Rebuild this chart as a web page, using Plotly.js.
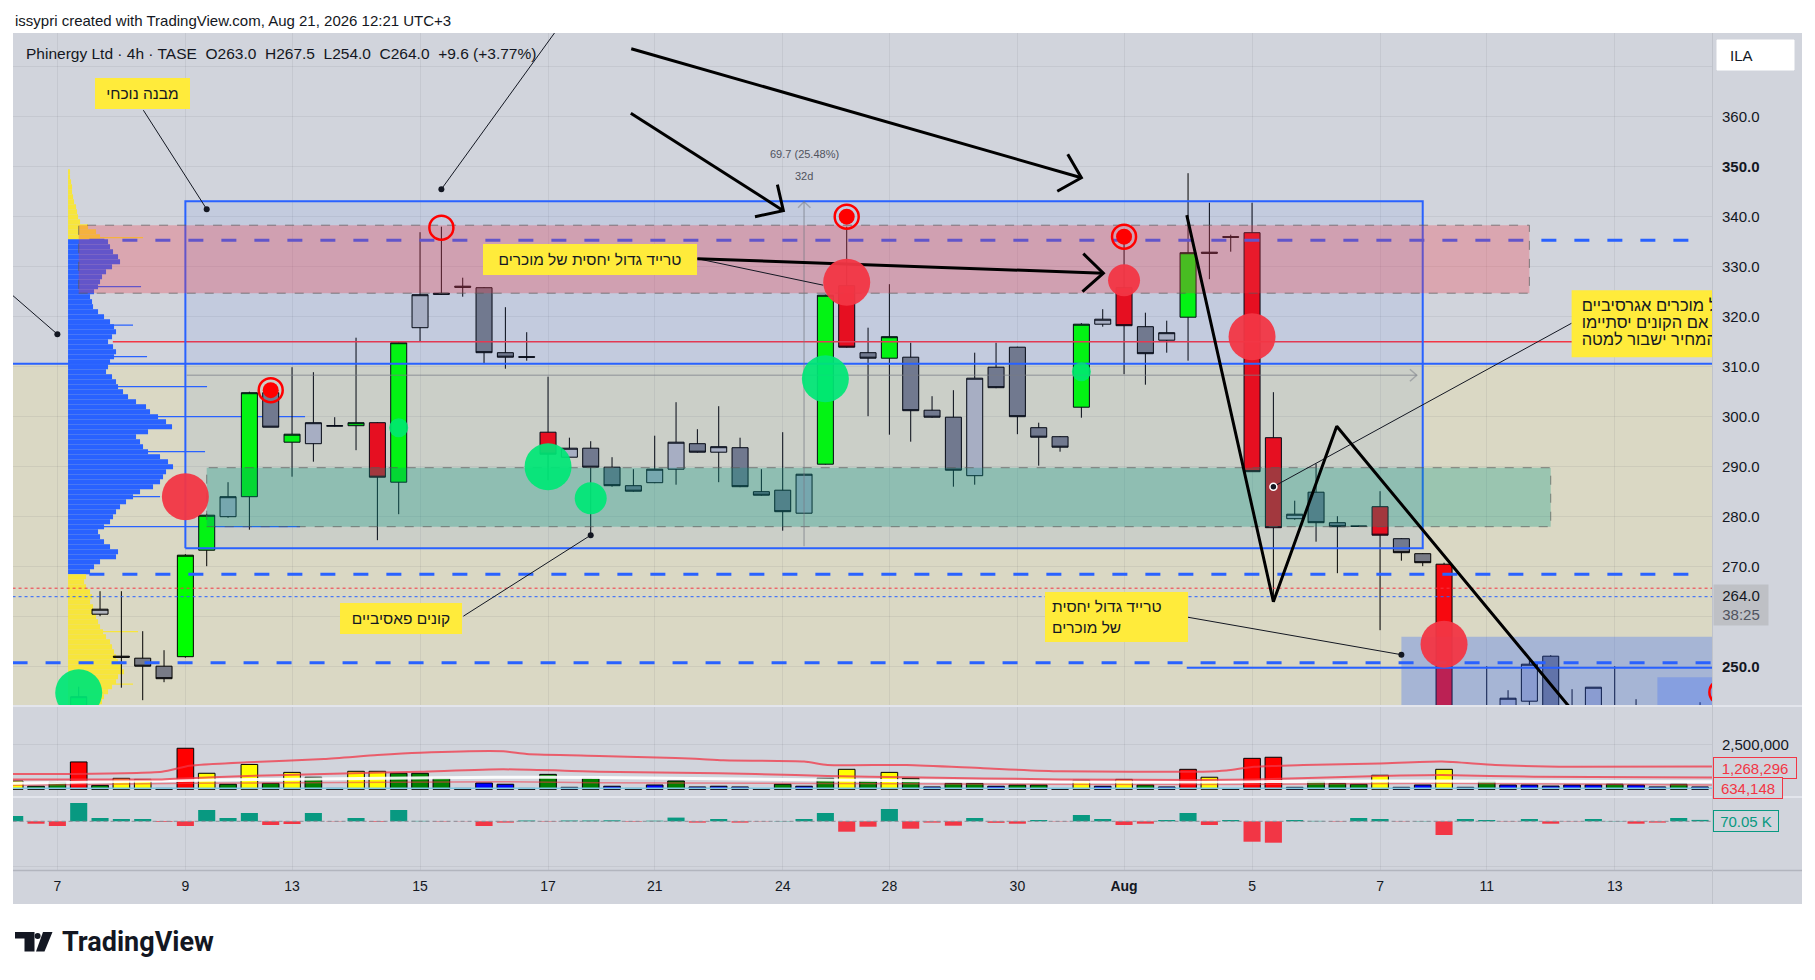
<!DOCTYPE html>
<html><head><meta charset="utf-8">
<script src="https://cdn.plot.ly/plotly-3.0.1.min.js"></script>
<style>html,body{margin:0;padding:0;background:#fff;}#chart{width:1815px;height:980px;}</style>
</head><body><div id="chart"></div>
<script>
// ================= DATA =================
const open  = [238,239.5,238.5,237,260.5,252.1,251.7,250.1,252.0,273.3,
               280.0,284.0,304.8,294.9,294.6,298.1,298.2,298.8,286.9,317.8,
               324.7,326.1,325.8,312.8,312.0,296.9,291.9,293.7,289.9,286.2,
               286.8,289.5,294.6,292.9,293.8,285.0,285.3,280.7,290.5,326.2,
               312.8,311.7,311.9,301.3,299.9,288.2,309.9,313.9,297.8,296.0,
               301.9,318.5,325.8,318.0,315.3,319.9,332.9,336.0,336.8,295.8,
               279.6,284.9,278.8,278.1,282.0,275.6,272.6,270.5,238.0,240.0,
               239.5,243.1,252.1,241.5,240.5,241.0,241.0,241.0,240.0,240.5];
const high  = [241,241.5,240.5,246,265.1,265.1,257.1,253.3,272.5,280.6,
               286.9,305.0,305.3,309.9,308.9,299.9,315.8,298.9,315.0,336.9,
               338.0,327.8,325.9,321.9,316.9,308.0,295.8,295.1,291.9,289.5,
               296.2,302.9,297.5,302.1,295.8,289.5,296.9,288.6,324.4,338.0,
               317.8,326.5,314.8,304.1,305.3,312.8,314.8,314.0,298.8,296.1,
               318.7,321.5,335.5,320.8,319.2,348.7,342.8,336.4,342.8,304.9,
               283.2,290.6,280.1,278.2,285.1,275.7,272.7,270.8,240.5,250.1,
               245.3,251.5,252.3,245.5,245.9,250.1,243.5,241.5,241.8,242.9];
const low   = [235,236,235.5,236,260.1,245.8,243.3,246.9,251.8,270.1,
               279.8,277.4,297.9,288.0,291.0,298.0,293.3,275.3,280.5,315.1,
               324.4,324.0,310.6,309.6,311.2,287.3,291.9,276.3,286.0,285.0,
               286.7,286.4,292.8,286.9,285.9,284.2,277.2,280.6,290.4,313.8,
               300.1,296.4,295.0,299.8,286.0,286.4,305.7,296.5,290.2,293.0,
               299.8,318.0,308.5,306.4,312.8,311.2,327.5,333.0,289.0,263.0,
               279.4,275.0,268.7,278.0,257.3,271.2,270.1,236.0,234.0,235.0,
               237.0,240.5,238.0,237.0,238.0,237.0,238.0,238.0,238.0,238.0];
const close = [239.5,238.5,237,244,261.5,251.9,250.1,247.6,272.3,280.3,
               284.0,304.8,297.9,296.5,298.8,298.2,298.8,287.9,314.8,324.4,
               324.5,325.9,312.8,311.9,311.9,292.5,293.7,289.9,286.2,285.1,
               289.5,294.9,292.9,294.0,286.0,284.3,281.0,288.5,324.3,313.9,
               311.7,316.0,301.2,299.9,289.3,307.7,305.8,300.0,295.9,293.9,
               318.5,319.5,318.2,312.6,316.8,332.8,332.7,335.9,289.0,277.8,
               280.5,278.8,278.0,278.1,276.3,272.8,270.8,238.0,237.0,238.0,
               243.7,250.5,240.0,240.0,245.9,240.0,240.5,240.0,241.0,241.2];
// candle class: G strong up, R strong down, u up, d down
const candleClass = ['u','d','d','G','u','d','d','d','G','G',
                     'u','G','d','G','u','u','G','R','G','u',
                     'd','d','d','d','d','R','u','d','d','d',
                     'u','u','d','u','d','d','d','u','G','R',
                     'd','G','d','d','d','u','d','d','d','d',
                     'G','u','R','d','u','G','d','d','R','R',
                     'u','d','d','d','R','d','d','R','d','d',
                     'u','u','d','d','u','d','d','d','u','u'];
// volume in millions of shares
const volumeM = [0.46,0.17,0.40,1.52,0.22,0.61,0.55,0.05,2.28,0.89,
                 0.28,1.38,0.33,0.94,0.67,0.05,1.00,1.00,0.89,0.89,
                 0.61,0.05,0.35,0.28,0.05,0.83,0.11,0.61,0.17,0.05,
                 0.24,0.46,0.13,0.17,0.13,0.04,0.28,0.17,0.61,1.11,
                 0.46,0.94,0.61,0.13,0.33,0.33,0.17,0.24,0.24,0.04,
                 0.50,0.17,0.55,0.24,0.13,1.11,0.67,0.04,1.72,1.78,
                 0.11,0.46,0.33,0.28,0.78,0.11,0.24,1.11,0.11,0.46,
                 0.24,0.24,0.18,0.24,0.24,0.28,0.24,0.13,0.28,0.13];
// relative volume class: L low, N normal, H high, X extreme, T tiny
const volClass = ['H','N','N','X','N','H','H','T','X','H',
                  'N','H','N','H','N','T','H','H','N','N',
                  'N','T','L','L','T','N','L','N','L','T',
                  'L','N','L','L','L','T','N','L','N','H',
                  'N','H','N','L','N','N','L','N','N','T',
                  'H','L','H','N','L','X','H','T','X','X',
                  'L','N','N','N','H','L','L','H','L','N',
                  'L','L','L','L','L','N','L','L','N','L'];
// volume delta (thousands)
const deltaK = [265,-120,-235,915,165,115,115,-35,-235,565,
                165,415,-185,-135,415,-15,165,-30,565,20,
                -20,-10,-235,-65,40,-20,40,40,50,-25,
                30,185,-65,115,-65,-15,15,115,415,-520,
                -270,615,-370,-65,-220,165,-75,-120,65,-15,
                315,115,-185,-120,65,415,-185,65,-1020,-1070,
                65,20,-20,165,115,-15,15,-685,115,65,
                -15,115,-120,-15,115,15,-120,-65,165,70];
// volume moving-average style lines (bar index, millions)
const volLineHiX = [-0.2,1.9,6.9,8.2,10.9,14.5,17,19,22.9,24,27.4,30.1,31.9,33.2,37,38.1,41.8,45.4,49,55.7,56.8,58.1,60.4,64,66.9,69.4,73,79.6];
const volLineHiY = [0.85,0.85,0.98,1.31,1.50,1.68,1.90,2.03,2.11,1.96,1.85,1.76,1.70,1.61,1.54,1.35,1.35,1.17,1.00,0.98,1.04,1.25,1.35,1.44,1.54,1.35,1.25,1.27];
const volLineMidX = [-0.2,6.9,8.2,10.9,14.5,19,22.9,27.4,33,36.6,38.1,41.8,49,55.7,58.1,64,66.9,71.2,79.6];
const volLineMidY = [0.55,0.55,0.61,0.74,0.85,0.98,1.11,0.98,0.89,0.79,0.74,0.67,0.55,0.52,0.55,0.74,0.79,0.70,0.66];
const volLineWhiteX = [-0.2,6.9,12,22.5,27.4,38.1,49,55.7,64,79.6];
const volLineWhiteY = [0.33,0.48,0.55,0.67,0.65,0.52,0.42,0.41,0.46,0.42];
const volLineLowX = [-0.2,8.2,22.9,27.4,55,66.9,79.6];
const volLineLowY = [0.22,0.33,0.42,0.37,0.26,0.33,0.24];
const volLineBaseX = [-0.2,79.6];
const volLineBaseY = [0.06,0.06];
// volume profile (price bin, relative volume)
const profilePrice = [349,348,347,346,345,344,343,342,341,340,339,338,337,336,335,334,333,332,331,330,
  329,328,327,326,325,324,323,322,321,320,319,318,317,316,315,314,313,312,311,310,
  309,308,307,306,305,304,303,302,301,300,299,298,297,296,295,294,293,292,291,290,
  289,288,287,286,285,284,283,282,281,280,279,278,277,276,275,274,273,272,271,270,
  269,268,267,266,265,264,263,262,261,260,259,258,257,256,255,254,253,252,251,250,
  249,248,247,246,245,244,243,242];
const profileVol = [2,2,3,4,4,5,6,8,9,10,12,20,28,32,40,42,45,50,52,44,
  38,34,32,30,26,22,24,25,30,36,42,46,48,44,40,45,48,46,42,40,
  38,44,48,50,55,60,68,78,82,90,98,104,80,68,72,75,80,92,100,105,
  98,95,92,85,72,65,58,52,48,45,42,36,30,32,36,42,50,48,32,26,
  22,18,16,18,22,24,22,25,27,28,30,32,35,38,42,44,46,48,50,54,
  56,50,48,44,40,36,34,32];
const spikePrice = [335.8,326.0,318.3,312.0,306.0,300.0,293.0,284.0,278.0,257.0,246.5];
const spikeVol   = [75,73,65,79,139,237,137,92,232,70,65];
const VAH = 335.3, VAL = 268.5;
// x-axis tick labels (bar index of first bar of day)
const tickBars   = [2,8,13,19,25,30,36,41,47,52,58,64,69,75];
const tickLabels = ['7','9','13','15','17','21','24','28','30','<b>Aug</b>','5','7','11','13'];
// signal circles (bar index, price)
const bigRedX = [8,39,58,67],  bigRedY = [284.0,326.9,316.0,254.5];
const midRedX = [52],          midRedY = [327.3];
const bigGreenX = [3,25,38],   bigGreenY = [244.8,290.0,307.6];
const midGreenX = [27],        midGreenY = [283.7];
const smallGreenX = [18,50],   smallGreenY = [297.8,309.0];
const ringX = [12,20,39,52,80], ringY = [305.3,337.8,340.0,336.0,244.9];
const ringDotX = [12,39,52],   ringDotY = [305.3,340.0,336.0];

// ================= GEOMETRY / STYLE =================
const W=1815,H=980,ML=13,MR=103,MT=33,MB=110;
const PW=W-ML-MR, PH=H-MT-MB;
const px = x => (x-ML)/PW;
const py = y => (H-MB-y)/PH;
const X_RANGE=[-0.08,79.56];
const PX_PER_BAR = 21.333, PROFILE_BASE = 2.5;
const FONT='Liberation Sans, Arial, sans-serif';
const GRID='rgba(42,46,57,0.07)';
const BLUE='#2962ff', RED='#f23645';
const N = open.length;
const barIdx = Array.from({length:N},(_,i)=>i);

const traces=[];
const M = {xaxis:'x',yaxis:'y',hoverinfo:'skip',showlegend:false};

// volume profile
traces.push(Object.assign({type:'bar',orientation:'h',y:profilePrice,
  x:profileVol.map(v=>v/PX_PER_BAR),base:PROFILE_BASE,width:1,
  marker:{color:profilePrice.map(p=>(p>VAL&&p<VAH)?BLUE:'#f7e53c'),line:{width:0}}},M));
traces.push(Object.assign({type:'bar',orientation:'h',y:spikePrice,
  x:spikeVol.map(v=>v/PX_PER_BAR),base:PROFILE_BASE,width:0.25,
  marker:{color:spikePrice.map(p=>(p>VAL&&p<VAH)?BLUE:'#f7e53c'),line:{width:0}}},M));

// candles
const candleColors={d:'#787b86',u:'#b2b5be',G:'#00ff00',R:'#f7080f'};
Object.keys(candleColors).forEach(c=>{
  const idx=barIdx.filter(i=>candleClass[i]===c);
  const st={fillcolor:candleColors[c],line:{color:'#000000',width:1}};
  traces.push(Object.assign({type:'candlestick',x:idx,open:idx.map(i=>open[i]),high:idx.map(i=>high[i]),
    low:idx.map(i=>low[i]),close:idx.map(i=>close[i]),increasing:st,decreasing:st,whiskerwidth:0},M));
});

function line(xs,ys,color,width,dash,extra){
  traces.push(Object.assign({type:'scatter',mode:'lines',x:xs,y:ys,line:{color:color,width:width,dash:dash||'solid'}},M,extra||{}));
}
function box(x0,x1,y0,y1,fill,lc,lw,dash){
  traces.push(Object.assign({type:'scatter',mode:'lines',x:[x0,x1,x1,x0,x0],y:[y0,y0,y1,y1,y0],fill:'toself',fillcolor:fill,
    line:{color:lc,width:lw,dash:dash||'solid'}},M));
}

// horizontal levels
line([-0.1,79.6],[265.7,265.7],RED,1,'dot');
line([-0.1,79.6],[264.0,264.0],BLUE,1,'dot');
line([3.5,79.0],[VAH,VAH],BLUE,3,'15px,18px');
line([3.5,79.0],[VAL,VAL],BLUE,3,'15px,18px');
line([-0.1,79.6],[250.8,250.8],BLUE,3,'15px,18px');
line([4.6,79.6],[315.0,315.0],RED,1.5);
line([-0.1,79.6],[310.6,310.6],BLUE,2);
line([54.94,79.6],[249.8,249.8],BLUE,2);

// zones
box(8.0,66.0,273.7,343.1,'rgba(41,98,255,0.08)',BLUE,2);
box(3.0,71.0,324.7,338.3,'rgba(242,54,69,0.29)','rgba(90,90,90,0.7)',1,'dash');
box(9.0,72.0,278.0,289.8,'rgba(8,153,129,0.30)','rgba(90,90,90,0.7)',1,'dash');
box(65.0,82,230,256.0,'rgba(41,98,255,0.29)','rgba(0,0,0,0)',0);
box(77.0,82,230,247.9,'rgba(41,98,255,0.26)','rgba(0,0,0,0)',0);

// measure tool
const MG='rgba(120,123,134,0.5)';
line([37,37],[274.1,343.0],MG,1.5);
line([36.72,37,37.3],[341.8,343.0,341.8],MG,1.5);
line([8.06,65.72],[308.3,308.3],MG,1.5);
line([65.4,65.72,65.4],[309.5,308.3,307.1],MG,1.5);

// thin leader lines
line([6.03,9.0],[361.3,341.5],'#131722',1);
line([26.5,20.0],[383.8,345.5],'#131722',1);
line([-1.0,2.0],[327.6,316.5],'#131722',1);
line([21.03,27.0],[260.1,276.3],'#131722',1);
line([54.98,65.0],[259.9,252.4],'#131722',1);
line([72.98,59.0],[318.7,286.0],'#131722',1);
line([32.0,37.9],[331.6,326.3],'#131722',1);

// thick black drawings
line([28.88,36.03],[360.7,341.2],'#000',3);
line([35.75,36.03,34.7],[346.4,341.2,340.0],'#000',3);
line([28.9,50.0],[373.6,347.8],'#000',3);
line([49.36,50.0,48.87],[352.5,347.8,345.1],'#000',3);
line([32.0,51.03],[331.6,328.7],'#000',3);
line([50.09,51.03,50.05],[332.6,328.7,325.0],'#000',3);
line([54.94,59.0,61.97,75.0],[340.3,263.0,298.1,231.0],'#000',3);

// anchor dots
traces.push(Object.assign({type:'scatter',mode:'markers',x:[9.0,20.0,2.0,27.0,65.0],y:[341.5,345.5,316.5,276.3,252.4],
  marker:{size:6,color:'#131722'}},M));
traces.push(Object.assign({type:'scatter',mode:'markers',x:[59.0],y:[286.0],
  marker:{size:7,color:'#131722',line:{color:'#ffffff',width:1.5}}},M));

// signal circles
function dots(xs,ys,size,color){
  traces.push(Object.assign({type:'scatter',mode:'markers',x:xs,y:ys,marker:{size:size,color:color,line:{width:0}}},M));
}
dots(bigRedX,bigRedY,47,'rgba(242,54,69,0.95)');
dots(midRedX,midRedY,32,'rgba(242,54,69,0.95)');
dots(bigGreenX,bigGreenY,47,'rgba(0,230,118,0.93)');
dots(midGreenX,midGreenY,32,'rgba(0,230,118,0.93)');
dots(smallGreenX,smallGreenY,19,'rgba(0,230,118,0.85)');
traces.push(Object.assign({type:'scatter',mode:'markers',x:ringX,y:ringY,
  marker:{size:24,symbol:'circle-open',color:'#ff0000',line:{color:'#ff0000',width:2.5}}},M));
dots(ringDotX,ringDotY,16,'#ff0000');

// right (clipped) label
box(72.98,82,311.9,325.3,'#ffeb3b','#ffeb3b',0);
traces.push(Object.assign({type:'scatter',mode:'text',x:[73.45,73.45,73.45],y:[321.9,318.5,315.1],
  text:['של מוכרים אגרסיביים','אם הקונים יסתיימו','המחיר ישבור למטה'],textposition:'middle right',
  textfont:{family:FONT,size:16.5,color:'#131722'},cliponaxis:true},M));

// volume pane
const volColors={L:'#0000ff',N:'#008000',H:'#ffff00',X:'#ff0000',T:'#131722'};
traces.push({type:'bar',x:barIdx,y:volumeM,width:0.78,xaxis:'x2',yaxis:'y2',hoverinfo:'skip',showlegend:false,
  marker:{color:volClass.map(c=>volColors[c]),line:{color:'#000000',width:1}}});
function vline(xs,ys,color,width){
  traces.push({type:'scatter',mode:'lines',x:xs,y:ys,xaxis:'x2',yaxis:'y2',hoverinfo:'skip',showlegend:false,
    line:{color:color,width:width,shape:'spline',smoothing:0.6}});
}
vline(volLineBaseX,volLineBaseY,'#7ec8e3',1.5);
vline(volLineLowX,volLineLowY,'rgba(242,54,69,0.55)',1.5);
vline(volLineWhiteX,volLineWhiteY,'rgba(255,255,255,0.9)',3);
vline(volLineMidX,volLineMidY,'rgba(242,54,69,0.75)',2);
vline(volLineHiX,volLineHiY,'rgba(242,54,69,0.75)',2);

// delta pane
traces.push({type:'scatter',mode:'lines',x:[-0.1,79.6],y:[0,0],xaxis:'x3',yaxis:'y3',hoverinfo:'skip',showlegend:false,
  line:{color:'#8a8d96',width:1,dash:'4px,3px'}});
traces.push({type:'bar',x:barIdx,y:deltaK,width:0.8,xaxis:'x3',yaxis:'y3',hoverinfo:'skip',showlegend:false,
  marker:{color:deltaK.map(v=>v>=0?'#089981':RED),line:{width:0}}});

// ================= LAYOUT =================
const yTicks=[250,260,270,280,290,300,310,320,330,340,350,360,370];
const yText=yTicks.map(v=>(v===260||v===370)?'':(v===250||v===350)?'<b>'+v.toFixed(1)+'</b>':v.toFixed(1));
const xBase={range:X_RANGE,tickmode:'array',tickvals:tickBars,ticktext:tickLabels,showgrid:true,gridcolor:GRID,gridwidth:1,
  zeroline:false,showline:false,ticks:'',fixedrange:true};
const yBase={side:'right',showgrid:true,gridcolor:GRID,zeroline:false,showline:false,ticks:'',fixedrange:true,
  tickfont:{size:15,color:'#131722'},ticklabelstandoff:9};

const ann=[];
function A(o){ann.push(Object.assign({showarrow:false,font:{family:FONT,size:14,color:'#131722'}},o));}
A({xref:'paper',yref:'paper',x:px(13),y:py(20),xanchor:'left',yanchor:'middle',
   text:'issypri created with TradingView.com, Aug 21, 2026 12:21 UTC+3',font:{family:FONT,size:15,color:'#131722'}});
A({xref:'paper',yref:'paper',x:px(23.5),y:py(53.3),xanchor:'left',yanchor:'middle',font:{family:FONT,size:15.5,color:'#131722'},
   text:'Phinergy Ltd · 4h · TASE\u00a0\u00a0O263.0\u00a0\u00a0H267.5\u00a0\u00a0L254.0\u00a0\u00a0C264.0\u00a0\u00a0+9.6 (+3.77%)'});
A({xref:'paper',yref:'paper',x:px(1728),y:py(55.5),xanchor:'left',yanchor:'middle',text:'ILA',font:{family:FONT,size:15,color:'#131722'}});
// yellow labels
const Y={bgcolor:'#ffeb3b',bordercolor:'#ffeb3b',borderwidth:0,borderpad:7,xref:'x',yref:'y',xanchor:'center',yanchor:'middle'};
const YF={family:FONT,size:15.5,color:'#131722'};
A(Object.assign({},Y,{x:6.0,y:364.7,width:81,text:'מבנה נוכחי',font:YF}));
A(Object.assign({},Y,{x:26.95,y:331.4,width:200,text:'טרייד גדול יחסית של מוכרים',font:YF}));
A(Object.assign({},Y,{x:18.12,y:259.6,width:108,text:'קונים פאסיביים',font:YF}));
A(Object.assign({},Y,{x:51.64,y:259.9,width:129,height:36,align:'left',text:'טרייד גדול יחסית<br>של מוכרים',font:YF}));
// measure texts
A({xref:'x',yref:'y',x:37,y:352.6,text:'69.7 (25.48%)',font:{family:FONT,size:11,color:'#50535e'}});
A({xref:'x',yref:'y',x:37,y:348.2,text:'32d',font:{family:FONT,size:11,color:'#50535e'}});
// axis price label
A({xref:'paper',yref:'paper',x:px(1713),y:py(605),xanchor:'left',yanchor:'middle',width:50,height:36,borderpad:2,
   bgcolor:'#bec0c5',align:'center',text:'264.0<br><span style="color:#50535e">38:25</span>',font:{family:FONT,size:15,color:'#131722'}});
A({xref:'paper',yref:'paper',x:px(1713),y:py(767.5),xanchor:'left',yanchor:'middle',width:78,height:16,borderpad:2,
   bgcolor:'#d1d4dc',bordercolor:RED,borderwidth:1,align:'center',text:'1,268,296',font:{family:FONT,size:15,color:RED}});
A({xref:'paper',yref:'paper',x:px(1713),y:py(788),xanchor:'left',yanchor:'middle',width:64,height:16,borderpad:2,
   bgcolor:'#d1d4dc',bordercolor:RED,borderwidth:1,align:'center',text:'634,148',font:{family:FONT,size:15,color:RED}});
A({xref:'paper',yref:'paper',x:px(1713),y:py(820.7),xanchor:'left',yanchor:'middle',width:60,height:16,borderpad:2,
   bgcolor:'#d1d4dc',bordercolor:'#089981',borderwidth:1,align:'center',text:'70.05 K',font:{family:FONT,size:15,color:'#089981'}});
// logo text
A({xref:'paper',yref:'paper',x:px(60),y:py(942),xanchor:'left',yanchor:'middle',text:'TradingView',
   font:{family:'Roboto, Inter, sans-serif',size:27,weight:700,color:'#131722'}});

function P(pts){return pts.map((p,k)=>(k?'L':'M')+px(p[0])+','+py(p[1])).join(' ')+' Z';}
const shapes=[
  {type:'rect',xref:'paper',yref:'paper',x0:px(13),x1:px(1802),y0:py(904),y1:py(33),fillcolor:'#d1d4dc',line:{width:0},layer:'below'},
  {type:'rect',xref:'x',yref:'y',x0:-1,x1:82,y0:230,y1:310.6,fillcolor:'#dad8c4',line:{width:0},layer:'below'},
  {type:'line',xref:'paper',yref:'paper',x0:px(13),x1:px(1802),y0:py(706),y1:py(706),line:{color:'#e3e5ec',width:2},layer:'above'},
  {type:'line',xref:'paper',yref:'paper',x0:px(13),x1:px(1802),y0:py(797),y1:py(797),line:{color:'#e3e5ec',width:2},layer:'above'},
  {type:'line',xref:'paper',yref:'paper',x0:px(13),x1:px(1802),y0:py(870.5),y1:py(870.5),line:{color:'#b2b5be',width:1.5},layer:'above'},
  {type:'line',xref:'paper',yref:'paper',x0:px(1712.5),x1:px(1712.5),y0:py(33),y1:py(904),line:{color:'#c0c3cb',width:1},layer:'above'},
  {type:'rect',xref:'paper',yref:'paper',x0:px(1717),x1:px(1794),y0:py(70),y1:py(40),fillcolor:'#ffffff',line:{color:'#ffffff',width:1},layer:'above'},
  // TradingView logo mark
  {type:'path',xref:'paper',yref:'paper',path:P([[15,932],[34.5,932],[34.5,951.5],[24.5,951.5],[24.5,938.5],[15,938.5]]),fillcolor:'#131722',line:{width:0},layer:'above'},
  {type:'circle',xref:'paper',yref:'paper',x0:px(34.6),x1:px(40.6),y0:py(939),y1:py(933),fillcolor:'#131722',line:{width:0},layer:'above'},
  {type:'path',xref:'paper',yref:'paper',path:P([[43,932],[52.5,932],[44.5,951.5],[36,951.5]]),fillcolor:'#131722',line:{width:0},layer:'above'}
];

const layout={
  width:W,height:H,autosize:false,margin:{l:ML,r:MR,t:MT,b:MB,pad:0},
  paper_bgcolor:'#ffffff',plot_bgcolor:'#d1d4dc',
  font:{family:FONT,size:13,color:'#131722'},showlegend:false,hovermode:false,dragmode:false,
  barmode:'overlay',boxmode:'overlay',boxgap:0.25,boxgroupgap:0,
  xaxis:Object.assign({},xBase,{domain:[0,1],anchor:'y',showticklabels:false,rangeslider:{visible:false}}),
  xaxis2:Object.assign({},xBase,{domain:[0,1],anchor:'y2',matches:'x',showticklabels:false}),
  xaxis3:Object.assign({},xBase,{domain:[0,1],anchor:'y3',matches:'x',showticklabels:true,
    tickfont:{size:14,color:'#131722'},ticklabelstandoff:6}),
  yaxis:Object.assign({},yBase,{domain:[py(705.7),1],range:[242.2,376.74],anchor:'x',tickmode:'array',tickvals:yTicks,ticktext:yText}),
  yaxis2:Object.assign({},yBase,{domain:[py(797),py(705.7)],range:[-0.4278,4.644],anchor:'x2',tickmode:'array',tickvals:[2.5],ticktext:['2,500,000']}),
  yaxis3:Object.assign({},yBase,{domain:[0,py(797)],range:[-2435,1215],anchor:'x3',tickmode:'array',tickvals:[-2270],ticktext:['']}),
  shapes:shapes,annotations:ann
};
Plotly.newPlot('chart',traces,layout,{staticPlot:true,displayModeBar:false});
</script></body></html>
